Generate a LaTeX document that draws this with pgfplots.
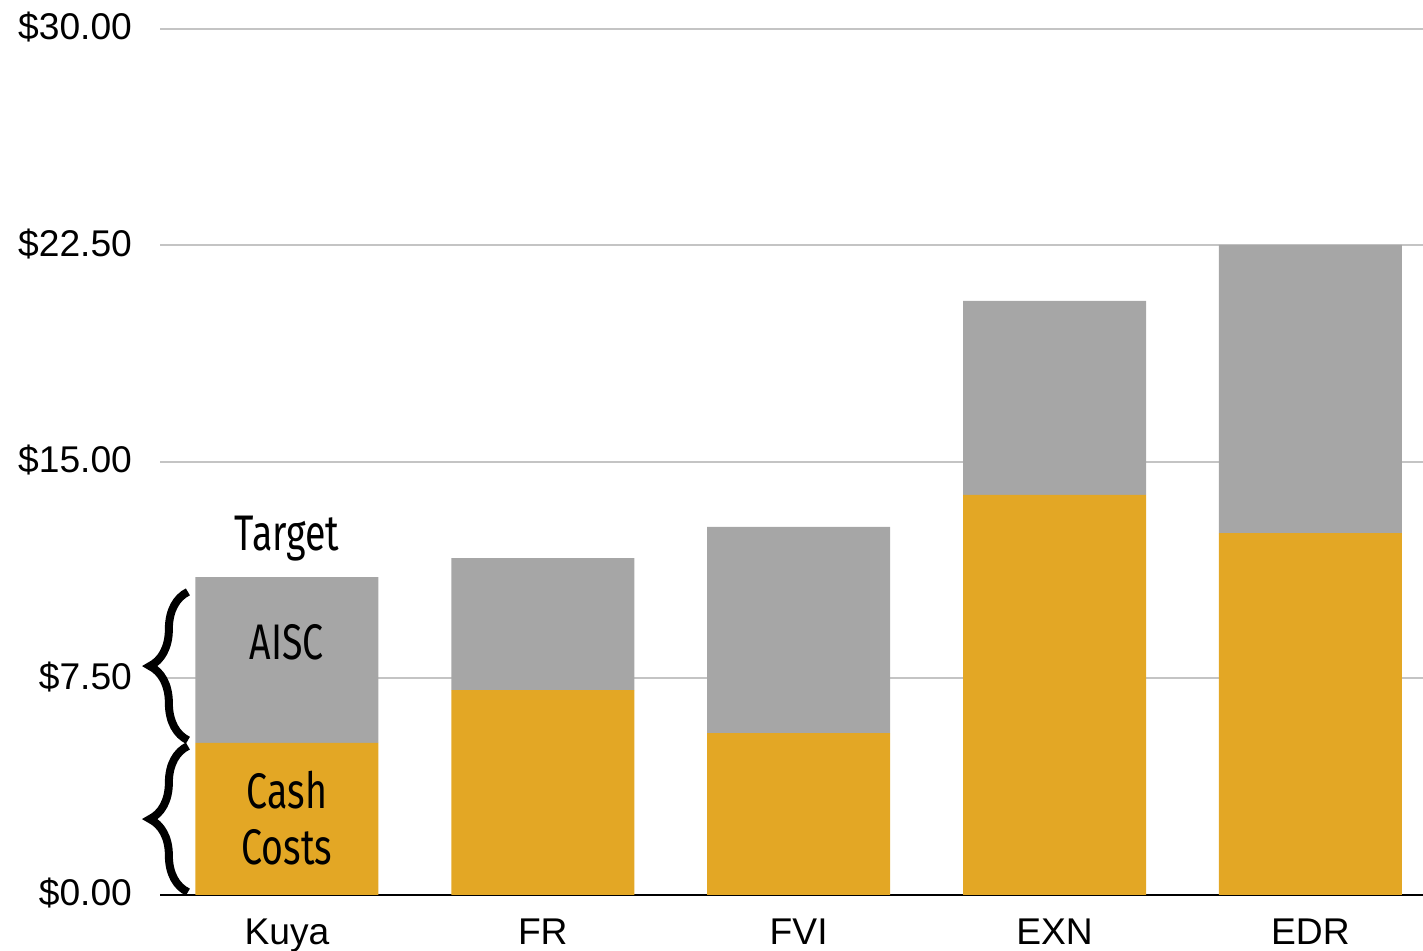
\documentclass[border=0pt]{standalone}
\usepackage{fontspec}
\setmainfont{Liberation Sans}
\newfontfamily\condfont{Fira Sans}
\usepackage{graphicx}
\usepackage{pgfplots}
\pgfplotsset{compat=1.18}
\usetikzlibrary{decorations.pathreplacing}
\definecolor{cashc}{HTML}{E3A725}
\definecolor{aiscc}{HTML}{A6A6A6}
\definecolor{gridc}{HTML}{C4C4C4}
\begin{document}
\begin{tikzpicture}
\path[use as bounding box] (-80pt,-28pt) rectangle (631.5pt,447.5pt);
\begin{axis}[
  scale only axis,
  width=631.5pt, height=433pt,
  xmin=-0.496, xmax=4.44,
  ymin=0, ymax=30,
  ybar stacked,
  bar width=91.5pt,
  xtick={0,1,2,3,4},
  xticklabels={Kuya,FR,FVI,EXN,EDR},
  ytick={0,7.5,15,22.5,30},
  yticklabels={\$0.00,\$7.50,\$15.00,\$22.50,\$30.00},
  ymajorgrids,
  grid style={gridc, line width=1pt},
  axis lines*=left,
  x axis line style={-, black, line width=1.3pt},
  y axis line style={draw=none},
  major tick length=0pt,
  tick label style={font=\fontsize{18.6}{20}\selectfont},
  yticklabel style={xshift=-10.5pt, yshift=0.8pt},
  xticklabel style={yshift=-8.5pt},
]
\addplot[fill=cashc, draw=none] coordinates {(0,5.27) (1,7.10) (2,5.61) (3,13.86) (4,12.54)};
\addplot[fill=aiscc, draw=none] coordinates {(0,5.74) (1,4.57) (2,7.14) (3,6.72) (4,9.98)};
\coordinate (tgt) at (axis cs:0,12.35);
\coordinate (aisc) at (axis cs:0,8.76);
\coordinate (cash) at (axis cs:0,3.64);
\coordinate (costs) at (axis cs:0,1.66);
\coordinate (b0) at (axis cs:-0.387,0.1);
\coordinate (b1) at (axis cs:-0.387,5.16);
\coordinate (b2) at (axis cs:-0.387,5.36);
\coordinate (b3) at (axis cs:-0.387,10.5);
\end{axis}
\tikzset{ann/.style={font=\condfont\fontsize{25}{28}\selectfont}}
\node[ann] at (tgt) {\scalebox{0.75}[1]{Target}};
\node[ann] at (aisc) {\scalebox{0.75}[1]{AISC}};
\node[ann] at (cash) {\scalebox{0.75}[1]{Cash}};
\node[ann] at (costs) {\scalebox{0.75}[1]{Costs}};
\draw[line width=4pt, line cap=butt, decorate, decoration={brace, amplitude=19pt}] (b0) -- (b1);
\draw[line width=4pt, line cap=butt, decorate, decoration={brace, amplitude=19pt}] (b2) -- (b3);
\end{tikzpicture}
\end{document}
